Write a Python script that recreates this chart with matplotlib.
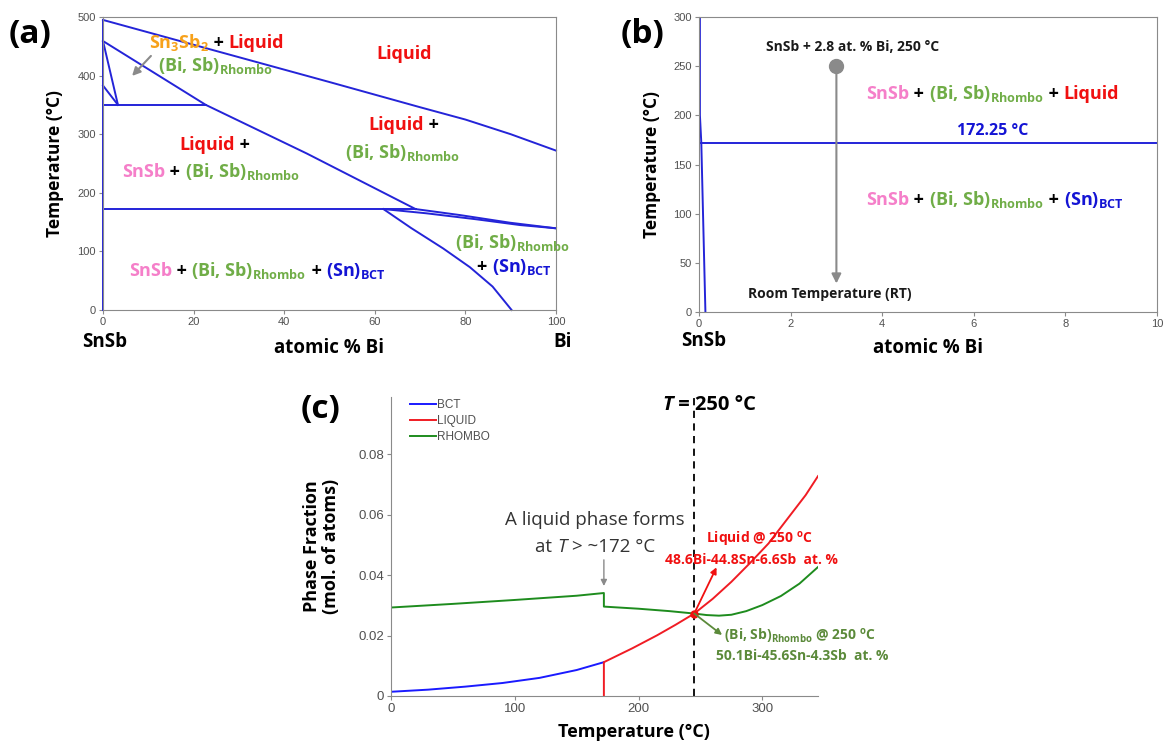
import matplotlib
matplotlib.use('Agg')
import matplotlib.pyplot as plt
from matplotlib.transforms import offset_copy
from matplotlib.lines import Line2D

plt.rcParams['font.family'] = ['Open Sans', 'DejaVu Sans']
plt.rcParams['mathtext.fontset'] = 'custom'
plt.rcParams['mathtext.rm'] = 'Open Sans'
plt.rcParams['mathtext.bf'] = 'Open Sans:bold'
plt.rcParams['mathtext.it'] = 'Open Sans:italic'

# ---- (a) SnSb - Bi isopleth, boundary lines (at.% Bi, deg C)
liq_x = [0, 25, 50, 70, 80, 90, 100]
liq_t = [495, 442, 389, 346, 325, 300, 272]
rh_liq_x = [0, 22.7, 45, 69]
rh_liq_t = [459, 350, 267, 172.25]
upper_x = [69, 78.8, 89.8, 100]
upper_t = [172.25, 162, 149, 139.4]
lower_x = [61.9, 71.4, 82.5, 92, 100]
lower_t = [172.25, 165, 154.7, 145, 139.4]
solvus_x = [61.9, 68, 75.1, 81, 86, 90.2]
solvus_t = [172.25, 140, 105, 73, 40, 0]
sn3sb2_a_x = [0, 3.3]
sn3sb2_a_t = [459, 350]
sn3sb2_b_x = [0, 3.3]
sn3sb2_b_t = [383, 350]
peritectic_x = [0, 22.7]
peritectic_t = [350, 350]
eutectic_x = [0, 69]
eutectic_t = [172.25, 172.25]
edge_x = [0, 0]
edge_t = [0, 495]

# ---- (b) zoom 0-10 at.% Bi
b_sol_x = [0.02, 0.02, 0.05, 0.14]
b_sol_t = [300, 200, 172.25, 0]
b_eut_t = 172.25
alloy_x = 3.0
alloy_t = 250
rt_t = 29

# ---- (c) phase fractions vs temperature
bct_T = [0, 30, 60, 90, 120, 150, 172]
bct_f = [0.0014, 0.0021, 0.0031, 0.0043, 0.0060, 0.0086, 0.0112]
liq_T = [172, 172, 195, 215, 230, 245, 260, 275, 290, 305, 320, 335, 345]
liq_f = [0.0, 0.0112, 0.0158, 0.0201, 0.0236, 0.0273, 0.0322, 0.0378, 0.0440, 0.0505, 0.0585, 0.0665, 0.0728]
rh_T = [0, 50, 100, 150, 172, 172, 200, 225, 245, 255, 265, 275, 287, 300, 315, 330, 345]
rh_f = [0.0293, 0.0305, 0.0318, 0.0332, 0.0341, 0.0296, 0.0289, 0.0281, 0.0273, 0.0268,
        0.0266, 0.0269, 0.0281, 0.0301, 0.0331, 0.0372, 0.0427]
T_mark = 245
f_mark = 0.0273

LINE = '#2424d8'
PINK = '#f57fc9'
GREEN = '#70ad47'
ORANGE = '#f7a11a'
RED = '#f01010'
BLUE = '#1414d4'
DKGREEN = '#5b8a3a'
GRAY = '#8a8a8a'

fig = plt.figure(figsize=(11.64, 7.44), dpi=100)
W, H = 1164, 744


def px_axes(l, t, r, b):
    return fig.add_axes([l / W, 1 - b / H, (r - l) / W, (b - t) / H])


def seg_text(ax, x, y, parts, size, ha='left', weight='bold'):
    # draw coloured pieces side by side on a common baseline
    r = fig.canvas.get_renderer()
    items = []
    dx = 0.0
    for p in parts:
        style = p[2] if len(p) > 2 else 'normal'
        t = ax.text(x, y, p[0], color=p[1], fontsize=size, fontweight=weight,
                    fontstyle=style, va='baseline', ha='left')
        items.append((t, dx))
        dx += t.get_window_extent(r).width
    shift = -dx / 2 if ha == 'center' else 0
    for t, off in items:
        t.set_transform(offset_copy(ax.transData, fig=fig, x=off + shift, y=0, units='dots'))


def style_axes(ax, size):
    for s in ax.spines.values():
        s.set_color(GRAY)
    ax.tick_params(direction='out', length=3, width=0.8, colors=GRAY, labelcolor='#505050',
                   labelsize=size, pad=2)
    for lab in ax.get_xticklabels() + ax.get_yticklabels():
        lab.set_family('Liberation Sans')


RH = '(Bi, Sb)$_{\\mathbf{Rhombo}}$'
BCT = '(Sn)$_{\\mathbf{BCT}}$'
PH = 13  # phase label size

# ================= (a)
axa = px_axes(103, 17, 556, 310)
for xs, ts in [(liq_x, liq_t), (rh_liq_x, rh_liq_t), (upper_x, upper_t), (lower_x, lower_t),
               (solvus_x, solvus_t), (sn3sb2_a_x, sn3sb2_a_t), (sn3sb2_b_x, sn3sb2_b_t),
               (peritectic_x, peritectic_t), (eutectic_x, eutectic_t), (edge_x, edge_t)]:
    axa.plot(xs, ts, color=LINE, lw=1.4, clip_on=False)
axa.set_xlim(0, 100)
axa.set_ylim(0, 500)
axa.set_xticks(range(0, 101, 20))
axa.set_yticks(range(0, 501, 100))
style_axes(axa, 8)
axa.annotate('', xy=(6, 396), xytext=(11, 437),
             arrowprops=dict(arrowstyle='-|>', color=GRAY, lw=1.5, mutation_scale=12))

seg_text(axa, 10.2, 446.6, [('Sn$_{\\mathbf{3}}$Sb$_{\\mathbf{2}}$', ORANGE), (' + ', 'k'), ('Liquid', RED)], PH)
seg_text(axa, 12.2, 408, [(RH, GREEN)], PH)
seg_text(axa, 60.3, 427.8, [('Liquid', RED)], PH)
seg_text(axa, 58.6, 307, [('Liquid', RED), (' +', 'k')], PH)
seg_text(axa, 53.4, 258.8, [(RH, GREEN)], PH)
seg_text(axa, 16.9, 273, [('Liquid', RED), (' +', 'k')], PH)
seg_text(axa, 4.2, 227.5, [('SnSb', PINK), (' + ', 'k'), (RH, GREEN)], PH)
seg_text(axa, 77.6, 105, [(RH, GREEN)], PH)
seg_text(axa, 82.6, 65.4, [('+ ', 'k'), (BCT, BLUE)], PH)
seg_text(axa, 5.7, 58, [('SnSb', PINK), (' + ', 'k'), (RH, GREEN), (' + ', 'k'), (BCT, BLUE)], PH)

axa.text(-0.106, 0.5, 'Temperature (°C)', transform=axa.transAxes, rotation=90,
         ha='center', va='center', fontsize=12.5, fontweight='bold')
axa.text(0.5, -0.147, 'atomic % Bi', transform=axa.transAxes, ha='center', va='baseline',
         fontsize=13.5, fontweight='bold')
axa.text(-0.045, -0.125, 'SnSb', transform=axa.transAxes, ha='left', va='baseline',
         fontsize=13.5, fontweight='bold')
axa.text(0.995, -0.125, 'Bi', transform=axa.transAxes, ha='left', va='baseline',
         fontsize=13.5, fontweight='bold')
fig.text(9 / W, 1 - 34 / H, '(a)', fontsize=24, fontweight='bold', va='center')

# ================= (b)
axb = px_axes(699, 17, 1157, 312)
axb.plot(b_sol_x, b_sol_t, color=LINE, lw=1.4)
axb.axhline(b_eut_t, color=LINE, lw=1.4)
axb.set_xlim(0, 10)
axb.set_ylim(0, 300)
axb.set_xticks(range(0, 11, 2))
axb.set_yticks(range(0, 301, 50))
style_axes(axb, 8)
axb.annotate('', xy=(alloy_x, rt_t), xytext=(alloy_x, alloy_t),
             arrowprops=dict(arrowstyle='-|>', color=GRAY, lw=1.5, mutation_scale=14,
                             shrinkA=0, shrinkB=0))
axb.plot([alloy_x], [alloy_t], 'o', color=GRAY, ms=10)

seg_text(axb, 1.47, 265, [('SnSb + 2.8 at. % Bi, 250 °C', '#1a1a1a')], 10)
seg_text(axb, 3.65, 216.5, [('SnSb', PINK), (' + ', 'k'), (RH, GREEN), (' + ', 'k'), ('Liquid', RED)], PH)
seg_text(axb, 5.63, 180, [('172.25 °C', BLUE)], 11.5)
seg_text(axb, 3.65, 108.7, [('SnSb', PINK), (' + ', 'k'), (RH, GREEN), (' + ', 'k'), (BCT, BLUE)], PH)
seg_text(axb, 1.06, 14.3, [('Room Temperature (RT)', '#1a1a1a')], 10)

axb.text(-0.103, 0.5, 'Temperature (°C)', transform=axb.transAxes, rotation=90,
         ha='center', va='center', fontsize=12.5, fontweight='bold')
axb.text(0.5, -0.139, 'atomic % Bi', transform=axb.transAxes, ha='center', va='baseline',
         fontsize=13.5, fontweight='bold')
axb.text(-0.04, -0.115, 'SnSb', transform=axb.transAxes, ha='left', va='baseline',
         fontsize=13.5, fontweight='bold')
fig.text(621 / W, 1 - 34 / H, '(b)', fontsize=24, fontweight='bold', va='center')

# ================= (c)
axc = px_axes(391, 397, 818, 696)
axc.plot(bct_T, bct_f, color='#1a1aff', lw=1.4)
axc.plot(liq_T, liq_f, color='#f01c24', lw=1.4)
axc.plot(rh_T, rh_f, color='#1e8c1e', lw=1.4)
axc.axvline(T_mark, color='k', lw=1.3, ls=(0, (4, 3)))
axc.set_xlim(0, 345)
axc.set_ylim(0, 0.099)
axc.set_xticks([0, 100, 200, 300])
axc.set_yticks([0, 0.02, 0.04, 0.06, 0.08])
axc.set_yticklabels(['0', '0.02', '0.04', '0.06', '0.08'])
axc.spines['top'].set_visible(False)
axc.spines['right'].set_visible(False)
style_axes(axc, 9.5)

handles = [Line2D([], [], color='#1a1aff', lw=1.4), Line2D([], [], color='#f01c24', lw=1.4),
           Line2D([], [], color='#1e8c1e', lw=1.4)]
leg = axc.legend(handles, ['BCT', 'LIQUID', 'RHOMBO'], loc='upper left', bbox_to_anchor=(0.02, 1.03),
                 frameon=False, handlelength=2.2, handletextpad=0.1, labelspacing=0.35,
                 prop={'family': 'Liberation Sans', 'size': 8.5})
for t in leg.get_texts():
    t.set_color('#505050')

axc.annotate('', xy=(172, 0.0355), xytext=(172, 0.046),
             arrowprops=dict(arrowstyle='-|>', color=GRAY, lw=1.0, mutation_scale=9))
axc.annotate('', xy=(263, 0.0426), xytext=(T_mark, f_mark),
             arrowprops=dict(arrowstyle='-|>', color=RED, lw=1.3, mutation_scale=9,
                             shrinkA=0, shrinkB=0))
axc.annotate('', xy=(267.5, 0.0202), xytext=(T_mark, f_mark),
             arrowprops=dict(arrowstyle='-|>', color=DKGREEN, lw=1.3, mutation_scale=9,
                             shrinkA=0, shrinkB=0))
axc.plot([T_mark], [f_mark], 'o', color=RED, ms=5)

seg_text(axc, 219.6, 0.0948, [('T', 'k', 'italic'), (' = 250 °C', 'k')], 14.5)
seg_text(axc, 165, 0.0565, [('A liquid phase forms', '#333333')], 13.5, ha='center', weight='normal')
seg_text(axc, 165, 0.0477, [('at ', '#333333'), ('T', '#333333', 'italic'), (' > ~172 °C', '#333333')],
         13.5, ha='center', weight='normal')
seg_text(axc, 254.6, 0.0505, [('Liquid @ 250 $^{\\mathbf{o}}$C', RED)], 10)
seg_text(axc, 221, 0.0436, [('48.6Bi-44.8Sn-6.6Sb  at. %', RED)], 10)
seg_text(axc, 269.4, 0.0183, [('(Bi, Sb)$_{\\mathbf{Rhombo}}$ @ 250 $^{\\mathbf{o}}$C', DKGREEN)], 10)
seg_text(axc, 262.6, 0.0119, [('50.1Bi-45.6Sn-4.3Sb  at. %', DKGREEN)], 10)

axc.text(-0.162, 0.5, 'Phase Fraction\n(mol. of atoms)', transform=axc.transAxes, rotation=90,
         ha='center', va='center', fontsize=13, fontweight='bold', linespacing=1.05)
axc.text(0.569, -0.136, 'Temperature (°C)', transform=axc.transAxes, ha='center', va='baseline',
         fontsize=13, fontweight='bold')
fig.text(301 / W, 1 - 410 / H, '(c)', fontsize=24, fontweight='bold', va='center')

fig.savefig('out.png', dpi=100)
